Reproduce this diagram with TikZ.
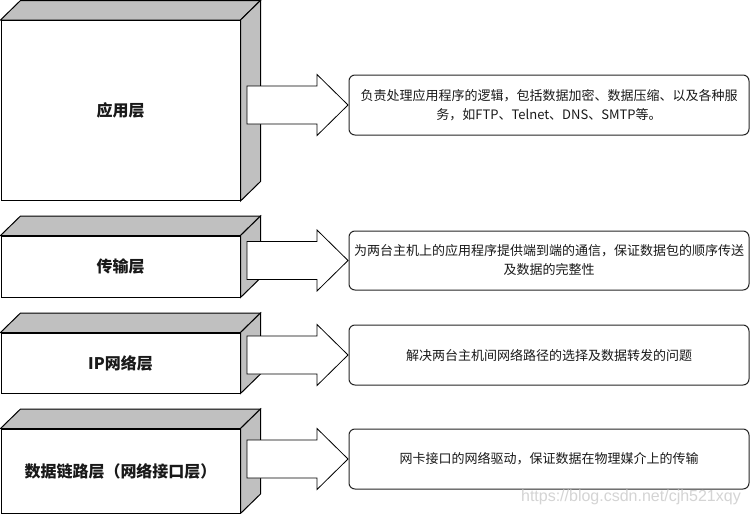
\documentclass[tikz,border=0pt]{standalone}
\usepackage{fontspec}
\setmainfont{Noto Sans CJK SC}
\newfontfamily\wmfont{Liberation Sans}
\usetikzlibrary{calc,backgrounds}
\definecolor{sidegray}{HTML}{C0C0C0}
\definecolor{wmgray}{HTML}{D4D4D4}
\tikzset{
  front/.style={draw=black, line width=1pt, fill=white, inner sep=0pt, minimum width=239pt,
    font=\fontsize{16}{19}\selectfont\bfseries, text=black!90},
  sideface/.style={draw=black, line width=1pt, fill=sidegray, line join=miter},
  desc/.style={draw=black!85, line width=1pt, rounded corners=6pt, fill=white, inner sep=0pt,
    minimum width=400pt, minimum height=60pt, align=center, font=\fontsize{13}{19}\selectfont, text=black!90},
  bigarrow/.style={draw=black, line width=0.8pt, fill=white, line join=miter},
  fatarrow/.pic={\draw[bigarrow] (0,-19) -- (70,-19) -- (70,-30.5) -- (101,0) -- (70,30.5) -- (70,19) -- (0,19) -- cycle;}
}
\begin{document}
\begin{tikzpicture}[x=1pt,y=-1pt]
\useasboundingbox (0,0) rectangle (750,514);

% front faces
\node[front, minimum height=180pt] (L1) at (120.5,110.5) {应用层};
\node[front, minimum height=61pt] (L2) at (120.5,266.5) {传输层};
\node[front, minimum height=60pt] (L3) at (120.5,363) {IP网络层};
\node[front, minimum height=84pt] (L4) at (120.5,471) {数据链路层（网络接口层）};

% background, side and top faces
\begin{scope}[on background layer]
\fill[white] (0,0) rectangle (750,514);
\foreach \n in {L1,L2,L3,L4}{
  \draw[sideface] (\n.north west) -- ($(\n.north west)+(20,-19.5)$) -- ($(\n.north east)+(20,-19.5)$) -- (\n.north east) -- cycle;
  \draw[sideface] (\n.north east) -- ($(\n.north east)+(20,-19.5)$) -- ($(\n.south east)+(20,-19.5)$) -- (\n.south east) -- cycle;
}
\end{scope}

% description boxes
\node[desc] (D1) at (549,105) {负责处理应用程序的逻辑，包括数据加密、数据压缩、以及各种服\\务，如FTP、Telnet、DNS、SMTP等。};
\node[desc, minimum height=59pt] (D2) at (549,260.5) {为两台主机上的应用程序提供端到端的通信，保证数据包的顺序传送\\及数据的完整性};
\node[desc] (D3) at (549,355) {解决两台主机间网络路径的选择及数据转发的问题};
\node[desc] (D4) at (549,459) {网卡接口的网络驱动，保证数据在物理媒介上的传输};

% arrows
\coordinate (A1) at (247,105);
\coordinate (A2) at (247,260.5);
\coordinate (A3) at (247,355);
\coordinate (A4) at (247,459);
\foreach \a in {A1,A2,A3,A4}{ \pic at (\a) {fatarrow}; }

% watermark
\node[anchor=east, text=wmgray, font=\wmfont\fontsize{16}{16}\selectfont, inner sep=0pt] (wm) at (741,497) {https://blog.csdn.net/cjh521xqy};
\end{tikzpicture}
\end{document}
